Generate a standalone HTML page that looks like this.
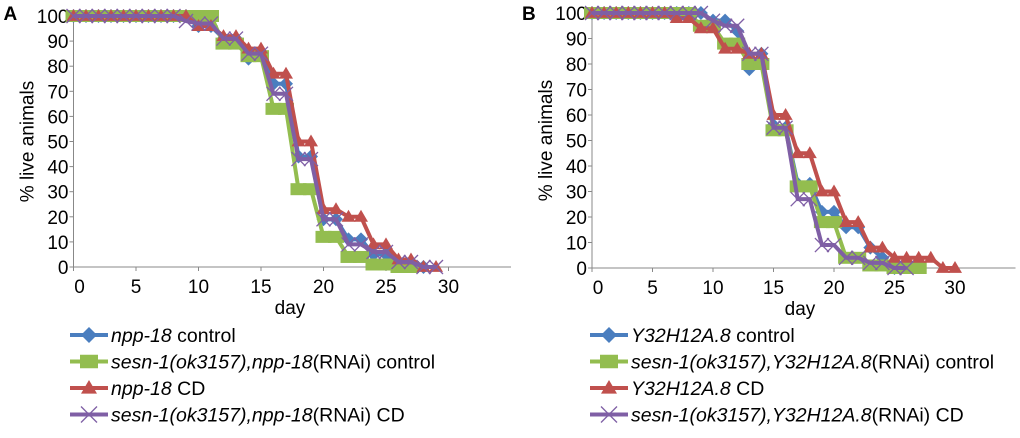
<!DOCTYPE html>
<html><head><meta charset="utf-8"><style>
body{margin:0;background:#fff;width:1020px;height:433px;overflow:hidden}
svg{font-family:"Liberation Sans",sans-serif}
</style></head><body>
<svg id="s" width="1020" height="433"></svg>
<script>
const days = [...Array(31).keys()];
const aBlue   = [100,100,100,100,100,100,100,100,100,100,96,96,91,91,83,85,73,73,44,44,19,19,11,11,5,5,2,2,0];
const aGreen  = [100,100,100,100,100,100,100,100,100,100,100,100,89,89,84,84,63,63,31,31,12,12,4,4,1,1,0,0];
const aRed    = [100,100,100,100,100,100,100,100,100,100,96,96,92,92,87,87,77,77,50,50,23,23,20,20,9,9,3,3,0,0];
const aPurple = [100,100,100,100,100,100,100,100,100,98,97,97,91,91,85,85,69,69,43,43,19,19,9,9,6,6,2,2,0,0];
const bBlue   = [100,100,100,100,100,100,100,100,100,100,97,97,93,78,84,56,55,33,33,22,22,16,16,8,4,0];
const bGreen  = [100,100,100,100,100,100,100,100,100,95,95,88,88,80,80,54,54,32,32,18,18,4,4,1,1,0,0,0];
const bRed    = [100,100,100,100,100,100,100,98,98,94,94,86,86,84,84,60,60,45,45,30,30,18,18,8,8,4,4,4,4,0,0];
const bPurple = [100,100,100,100,100,100,100,100,100,100,97,95,95,84,84,55,55,27,27,9,9,4,4,2,2,0,0];
const xTicks = [0,5,10,15,20,25,30];
const yTicks = [0,10,20,30,40,50,60,70,80,90,100];
const legendA = [["npp-18"," control"],["sesn-1(ok3157),npp-18","(RNAi) control"],["npp-18"," CD"],["sesn-1(ok3157),npp-18","(RNAi) CD"]];
const legendB = [["Y32H12A.8"," control"],["sesn-1(ok3157),Y32H12A.8","(RNAi) control"],["Y32H12A.8"," CD"],["sesn-1(ok3157),Y32H12A.8","(RNAi) CD"]];
const colors = ["#4a7ebf","#93bd4f","#c0504d","#7f5fa5"];
const kinds = ["diamond","square","triangle","x"];
const NS="http://www.w3.org/2000/svg";
const svg=document.getElementById('s');
function mk(t,a,p){const e=document.createElementNS(NS,t);for(const k in a)e.setAttribute(k,a[k]);(p||svg).appendChild(e);return e;}
function marker(g,kind,x,y,c,s){
  if(kind==="diamond") return mk('polygon',{points:`${x},${y-s} ${x+s},${y} ${x},${y+s} ${x-s},${y}`,fill:c},g);
  if(kind==="square") return mk('rect',{x:x-s,y:y-s*0.75,width:2*s,height:1.5*s,fill:c},g);
  if(kind==="triangle") return mk('polygon',{points:`${x},${y-s} ${x+s},${y+s*0.7} ${x-s},${y+s*0.7}`,fill:c},g);
  const gg=mk('g',{stroke:c,'stroke-width':1.3},g);
  mk('line',{x1:x-s,y1:y-s,x2:x+s,y2:y+s},gg);mk('line',{x1:x-s,y1:y+s,x2:x+s,y2:y-s},gg);return gg;
}
function panel(id,letter,x0,perDay,y0,y100,series,legend,lx,dayX){
  const g=mk('g',{});
  
  
  const X=d=>x0+d*perDay, Y=v=>y0-(y0-y100)*v/100;
  const lt=mk('text',{x:x0-70,y:20,'font-size':19,'font-weight':'bold'},g);lt.textContent=letter;
  
  
  const ax=mk('g',{stroke:'#888','stroke-width':1},g);
  
  
  mk('line',{x1:x0,y1:y100,x2:x0,y2:y0},ax);
  mk('line',{x1:x0,y1:y0,x2:X(35),y2:y0},ax);
  yTicks.forEach(v=>{mk('line',{x1:x0-4,y1:Y(v),x2:x0,y2:Y(v)},ax);
    const t=mk('text',{x:x0-5,y:Y(v)+7,'font-size':19,'text-anchor':'end'},g);t.textContent=v;
    
    });
  xTicks.forEach(d=>{mk('line',{x1:X(d),y1:y0,x2:X(d),y2:y0+4},ax);
    const t=mk('text',{x:X(d)+(d===0?6:0),y:y0+26,'font-size':19,'text-anchor':'middle'},g);t.textContent=d;
    
    });
  const yt=mk('text',{x:0,y:0,'font-size':19,'text-anchor':'middle',transform:`translate(${x0-40},${(y0+y100)/2}) rotate(-90)`},g);yt.textContent='% live animals';
  
  
  const xt=mk('text',{x:dayX,y:y0+47,'font-size':19,'text-anchor':'middle'},g);xt.textContent='day';
  
  
  series.forEach((ser,i)=>{
    const sg=mk('g',{},g);
    
    
    mk('polyline',{points:ser.map((v,d)=>X(d)+','+Y(v)).join(' '),fill:'none',stroke:colors[i],'stroke-width':4,'stroke-linejoin':'round'},sg);
    ser.forEach((v,d)=>{const m=marker(sg,kinds[i],X(d),Y(v),colors[i],i===1?8:7);
      
      });
  });
  legend.forEach((L,i)=>{
    const cy=335+i*26.5;
    const lg=mk('g',{},g);
    
    
    mk('line',{x1:lx,y1:cy,x2:lx+38,y2:cy,stroke:colors[i],'stroke-width':4},lg);
    marker(lg,kinds[i],lx+19,cy,colors[i],i===1?9:8);
    const t=mk('text',{x:lx+41,y:cy+7,'font-size':19.5},lg);
    const a=mk('tspan',{'font-style':'italic'},t);a.textContent=L[0];
    const b=mk('tspan',{},t);b.textContent=L[1];
  });
}
panel('panel-a','A',73.5,12.5,267,16,[aBlue,aGreen,aRed,aPurple],legendA,70,290);
panel('panel-b','B',592,12.1,268,13,[bBlue,bGreen,bRed,bPurple],legendB,590,800);
</script>
</body></html>
